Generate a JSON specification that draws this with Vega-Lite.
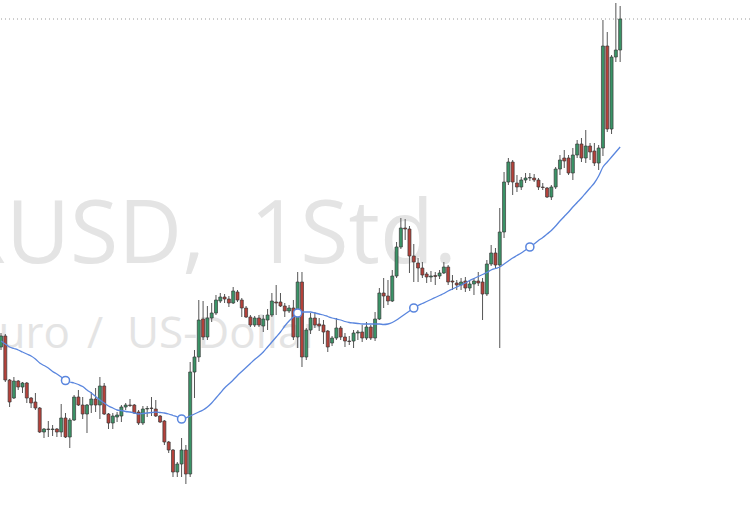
{
  "$schema": "https://vega.github.io/schema/vega-lite/v6.json",
  "width": 750,
  "height": 515,
  "padding": 0,
  "autosize": {"type": "none"},
  "background": "#ffffff",
  "config": {"view": {"stroke": null}, "scale": {"continuousPadding": 0}},
  "datasets": {
    "labels": [
      {"t": "EURUSD,", "x": 47.44, "y": 1.0737},
      {"t": "1Std.", "x": 57.9, "y": 1.0737},
      {"t": "Euro", "x": 16.05, "y": 1.0652},
      {"t": "/", "x": 20.0, "y": 1.0652},
      {"t": "US-Dollar", "x": 29.3, "y": 1.0652}
    ],
    "last": [{"price": 1.0981}],
    "candles": [
      {"i":0,"o":1.0653,"h":1.0667,"l":1.0650,"c":1.0664,"ma":1.0659},
      {"i":1,"o":1.0664,"h":1.0666,"l":1.0618,"c":1.0620,"ma":1.0656},
      {"i":2,"o":1.0620,"h":1.0621,"l":1.0593,"c":1.0598,"ma":1.0653},
      {"i":3,"o":1.0602,"h":1.0623,"l":1.0601,"c":1.0619,"ma":1.06515},
      {"i":4,"o":1.0619,"h":1.0620,"l":1.0610,"c":1.0613,"ma":1.0650},
      {"i":5,"o":1.0613,"h":1.0618,"l":1.0607,"c":1.0617,"ma":1.0648},
      {"i":6,"o":1.0617,"h":1.0618,"l":1.0597,"c":1.0602,"ma":1.0646},
      {"i":7,"o":1.0602,"h":1.0603,"l":1.0592,"c":1.0597,"ma":1.0644},
      {"i":8,"o":1.0598,"h":1.0607,"l":1.0590,"c":1.0592,"ma":1.0641},
      {"i":9,"o":1.0592,"h":1.0593,"l":1.0567,"c":1.0568,"ma":1.0637},
      {"i":10,"o":1.0568,"h":1.0572,"l":1.0562,"c":1.0571,"ma":1.06345},
      {"i":11,"o":1.0571,"h":1.0579,"l":1.0563,"c":1.05705,"ma":1.0632},
      {"i":12,"o":1.05705,"h":1.0575,"l":1.0564,"c":1.0571,"ma":1.06285},
      {"i":13,"o":1.0571,"h":1.0572,"l":1.0563,"c":1.0568,"ma":1.0626},
      {"i":14,"o":1.0568,"h":1.0596,"l":1.0563,"c":1.0582,"ma":1.0623},
      {"i":15,"o":1.0582,"h":1.0587,"l":1.0562,"c":1.0563,"ma":1.06195},
      {"i":16,"o":1.0563,"h":1.0582,"l":1.0552,"c":1.0580,"ma":1.0618},
      {"i":17,"o":1.0580,"h":1.0605,"l":1.0579,"c":1.0603,"ma":1.0617},
      {"i":18,"o":1.0603,"h":1.0610,"l":1.0594,"c":1.0595,"ma":1.06155},
      {"i":19,"o":1.0595,"h":1.0603,"l":1.0581,"c":1.0586,"ma":1.06135},
      {"i":20,"o":1.0586,"h":1.0596,"l":1.0567,"c":1.0595,"ma":1.0610},
      {"i":21,"o":1.0595,"h":1.0608,"l":1.0587,"c":1.0601,"ma":1.0607},
      {"i":22,"o":1.0601,"h":1.0612,"l":1.0588,"c":1.0595,"ma":1.06035},
      {"i":23,"o":1.0595,"h":1.0623,"l":1.0581,"c":1.0614,"ma":1.0600},
      {"i":24,"o":1.0614,"h":1.0617,"l":1.0585,"c":1.0586,"ma":1.0597},
      {"i":25,"o":1.0586,"h":1.0587,"l":1.0571,"c":1.0577,"ma":1.0594},
      {"i":26,"o":1.0577,"h":1.0587,"l":1.0571,"c":1.0584,"ma":1.0592},
      {"i":27,"o":1.0583,"h":1.0588,"l":1.0578,"c":1.0585,"ma":1.0590},
      {"i":28,"o":1.0584,"h":1.0595,"l":1.0578,"c":1.0593,"ma":1.05895},
      {"i":29,"o":1.0593,"h":1.0597,"l":1.0590,"c":1.0595,"ma":1.05885},
      {"i":30,"o":1.0595,"h":1.0601,"l":1.0593,"c":1.05945,"ma":1.0588},
      {"i":31,"o":1.0595,"h":1.0596,"l":1.0586,"c":1.0587,"ma":1.0587},
      {"i":32,"o":1.0588,"h":1.0590,"l":1.0575,"c":1.0577,"ma":1.0586},
      {"i":33,"o":1.0577,"h":1.0594,"l":1.0575,"c":1.0591,"ma":1.05865},
      {"i":34,"o":1.0591,"h":1.0594,"l":1.0583,"c":1.05915,"ma":1.0587},
      {"i":35,"o":1.0592,"h":1.0603,"l":1.0584,"c":1.05915,"ma":1.05875},
      {"i":36,"o":1.0591,"h":1.0600,"l":1.0583,"c":1.0584,"ma":1.0588},
      {"i":37,"o":1.0584,"h":1.0585,"l":1.0577,"c":1.0578,"ma":1.05875},
      {"i":38,"o":1.0579,"h":1.0580,"l":1.0555,"c":1.0558,"ma":1.0587},
      {"i":39,"o":1.0558,"h":1.0559,"l":1.0547,"c":1.0550,"ma":1.0586},
      {"i":40,"o":1.0550,"h":1.0551,"l":1.0523,"c":1.0528,"ma":1.05845},
      {"i":41,"o":1.0528,"h":1.0538,"l":1.0523,"c":1.0536,"ma":1.0583},
      {"i":42,"o":1.0536,"h":1.0562,"l":1.0523,"c":1.0550,"ma":1.0581},
      {"i":43,"o":1.0550,"h":1.0555,"l":1.0516,"c":1.0526,"ma":1.0582},
      {"i":44,"o":1.0526,"h":1.0638,"l":1.0523,"c":1.0628,"ma":1.0584},
      {"i":45,"o":1.0628,"h":1.0650,"l":1.0602,"c":1.0643,"ma":1.0586},
      {"i":46,"o":1.0643,"h":1.0700,"l":1.0638,"c":1.0680,"ma":1.0588},
      {"i":47,"o":1.0681,"h":1.0699,"l":1.0660,"c":1.0663,"ma":1.0590},
      {"i":48,"o":1.0663,"h":1.0694,"l":1.0660,"c":1.0682,"ma":1.0593},
      {"i":49,"o":1.0682,"h":1.0697,"l":1.0678,"c":1.0687,"ma":1.0597},
      {"i":50,"o":1.0687,"h":1.0705,"l":1.0685,"c":1.0700,"ma":1.0602},
      {"i":51,"o":1.0699,"h":1.0707,"l":1.0697,"c":1.0703,"ma":1.0607},
      {"i":52,"o":1.0703,"h":1.0706,"l":1.0697,"c":1.0701,"ma":1.0612},
      {"i":53,"o":1.0701,"h":1.0704,"l":1.0693,"c":1.0697,"ma":1.0616},
      {"i":54,"o":1.0697,"h":1.0713,"l":1.0696,"c":1.0709,"ma":1.0620},
      {"i":55,"o":1.0708,"h":1.0710,"l":1.0698,"c":1.0700,"ma":1.06245},
      {"i":56,"o":1.0700,"h":1.0702,"l":1.0683,"c":1.0692,"ma":1.06285},
      {"i":57,"o":1.0692,"h":1.0694,"l":1.0682,"c":1.0683,"ma":1.06325},
      {"i":58,"o":1.0683,"h":1.0685,"l":1.0673,"c":1.0675,"ma":1.06365},
      {"i":59,"o":1.0675,"h":1.0684,"l":1.0673,"c":1.0682,"ma":1.06405},
      {"i":60,"o":1.0682,"h":1.0685,"l":1.0673,"c":1.0675,"ma":1.0644},
      {"i":61,"o":1.0674,"h":1.0685,"l":1.0668,"c":1.0681,"ma":1.0648},
      {"i":62,"o":1.0680,"h":1.0691,"l":1.0670,"c":1.0685,"ma":1.0653},
      {"i":63,"o":1.0685,"h":1.0707,"l":1.0683,"c":1.0699,"ma":1.0658},
      {"i":64,"o":1.0698,"h":1.0715,"l":1.0685,"c":1.0697,"ma":1.0663},
      {"i":65,"o":1.0698,"h":1.0707,"l":1.0693,"c":1.0694,"ma":1.0668},
      {"i":66,"o":1.0694,"h":1.0697,"l":1.0683,"c":1.0689,"ma":1.0674},
      {"i":67,"o":1.0689,"h":1.0695,"l":1.0687,"c":1.0692,"ma":1.0679},
      {"i":68,"o":1.0692,"h":1.0700,"l":1.0660,"c":1.0663,"ma":1.0683},
      {"i":69,"o":1.0663,"h":1.0728,"l":1.0652,"c":1.0718,"ma":1.0687},
      {"i":70,"o":1.0718,"h":1.0728,"l":1.0633,"c":1.0643,"ma":1.0688},
      {"i":71,"o":1.0643,"h":1.0672,"l":1.0640,"c":1.0670,"ma":1.0688},
      {"i":72,"o":1.0670,"h":1.0687,"l":1.0666,"c":1.0682,"ma":1.0688},
      {"i":73,"o":1.0682,"h":1.0688,"l":1.0672,"c":1.0675,"ma":1.0687},
      {"i":74,"o":1.0676,"h":1.0682,"l":1.0669,"c":1.0674,"ma":1.0686},
      {"i":75,"o":1.0675,"h":1.0680,"l":1.0656,"c":1.0668,"ma":1.0685},
      {"i":76,"o":1.0669,"h":1.0670,"l":1.0648,"c":1.0653,"ma":1.06835},
      {"i":77,"o":1.0657,"h":1.0664,"l":1.0654,"c":1.0662,"ma":1.0682},
      {"i":78,"o":1.0662,"h":1.0682,"l":1.0660,"c":1.0672,"ma":1.0681},
      {"i":79,"o":1.0672,"h":1.0674,"l":1.0660,"c":1.0663,"ma":1.0680},
      {"i":80,"o":1.0663,"h":1.0667,"l":1.0653,"c":1.0659,"ma":1.06785},
      {"i":81,"o":1.0659,"h":1.0664,"l":1.0655,"c":1.06585,"ma":1.06775},
      {"i":82,"o":1.0659,"h":1.0670,"l":1.0652,"c":1.0667,"ma":1.0677},
      {"i":83,"o":1.0667,"h":1.0670,"l":1.0660,"c":1.0668,"ma":1.06765},
      {"i":84,"o":1.0668,"h":1.0675,"l":1.0658,"c":1.0662,"ma":1.0676},
      {"i":85,"o":1.0662,"h":1.0678,"l":1.0660,"c":1.0673,"ma":1.0676},
      {"i":86,"o":1.0673,"h":1.0675,"l":1.0660,"c":1.0662,"ma":1.0676},
      {"i":87,"o":1.0662,"h":1.0688,"l":1.0659,"c":1.0681,"ma":1.0676},
      {"i":88,"o":1.0681,"h":1.0712,"l":1.0680,"c":1.0707,"ma":1.0676},
      {"i":89,"o":1.0707,"h":1.0722,"l":1.0692,"c":1.0704,"ma":1.06755},
      {"i":90,"o":1.0704,"h":1.0720,"l":1.0695,"c":1.0699,"ma":1.0676},
      {"i":91,"o":1.0699,"h":1.0730,"l":1.0698,"c":1.0724,"ma":1.06775},
      {"i":92,"o":1.0724,"h":1.0758,"l":1.0722,"c":1.0753,"ma":1.0680},
      {"i":93,"o":1.0753,"h":1.0782,"l":1.0751,"c":1.0772,"ma":1.0683},
      {"i":94,"o":1.0772,"h":1.0781,"l":1.0760,"c":1.0771,"ma":1.0686},
      {"i":95,"o":1.0771,"h":1.0774,"l":1.0727,"c":1.0744,"ma":1.0689},
      {"i":96,"o":1.0744,"h":1.0756,"l":1.0718,"c":1.0738,"ma":1.0692},
      {"i":97,"o":1.0737,"h":1.0742,"l":1.0718,"c":1.0732,"ma":1.06945},
      {"i":98,"o":1.0732,"h":1.0738,"l":1.0722,"c":1.0725,"ma":1.06965},
      {"i":99,"o":1.0726,"h":1.0728,"l":1.0717,"c":1.0723,"ma":1.06985},
      {"i":100,"o":1.0723,"h":1.0729,"l":1.0718,"c":1.0724,"ma":1.07005},
      {"i":101,"o":1.07245,"h":1.0728,"l":1.0715,"c":1.07235,"ma":1.07025},
      {"i":102,"o":1.0724,"h":1.0730,"l":1.0721,"c":1.0727,"ma":1.07045},
      {"i":103,"o":1.0727,"h":1.0738,"l":1.0726,"c":1.0733,"ma":1.07065},
      {"i":104,"o":1.0733,"h":1.0735,"l":1.0715,"c":1.0718,"ma":1.0709},
      {"i":105,"o":1.0719,"h":1.0725,"l":1.0710,"c":1.0718,"ma":1.0711},
      {"i":106,"o":1.0717,"h":1.0720,"l":1.0710,"c":1.0715,"ma":1.0713},
      {"i":107,"o":1.0715,"h":1.0722,"l":1.0710,"c":1.0718,"ma":1.0715},
      {"i":108,"o":1.0719,"h":1.0723,"l":1.0708,"c":1.0712,"ma":1.0717},
      {"i":109,"o":1.0712,"h":1.0720,"l":1.0709,"c":1.0716,"ma":1.07195},
      {"i":110,"o":1.0716,"h":1.0722,"l":1.0705,"c":1.0719,"ma":1.07215},
      {"i":111,"o":1.0719,"h":1.0728,"l":1.0714,"c":1.0717,"ma":1.07235},
      {"i":112,"o":1.0718,"h":1.0722,"l":1.0680,"c":1.0706,"ma":1.07255},
      {"i":113,"o":1.0706,"h":1.0740,"l":1.0704,"c":1.0736,"ma":1.07275},
      {"i":114,"o":1.0736,"h":1.0755,"l":1.0734,"c":1.0747,"ma":1.0730},
      {"i":115,"o":1.0747,"h":1.0752,"l":1.0732,"c":1.0735,"ma":1.07315},
      {"i":116,"o":1.0735,"h":1.0792,"l":1.0652,"c":1.0768,"ma":1.0733},
      {"i":117,"o":1.0768,"h":1.0828,"l":1.0762,"c":1.0818,"ma":1.0736},
      {"i":118,"o":1.0818,"h":1.0842,"l":1.0815,"c":1.0838,"ma":1.0739},
      {"i":119,"o":1.0838,"h":1.0840,"l":1.0805,"c":1.0818,"ma":1.0742},
      {"i":120,"o":1.0817,"h":1.0825,"l":1.0808,"c":1.0813,"ma":1.07445},
      {"i":121,"o":1.0813,"h":1.0823,"l":1.0810,"c":1.0820,"ma":1.0747},
      {"i":122,"o":1.0820,"h":1.0827,"l":1.0817,"c":1.0822,"ma":1.0750},
      {"i":123,"o":1.0822,"h":1.0827,"l":1.0819,"c":1.08225,"ma":1.0753},
      {"i":124,"o":1.0822,"h":1.0826,"l":1.0818,"c":1.0820,"ma":1.0756},
      {"i":125,"o":1.0820,"h":1.0822,"l":1.0810,"c":1.0813,"ma":1.07595},
      {"i":126,"o":1.0813,"h":1.0817,"l":1.0810,"c":1.08125,"ma":1.07625},
      {"i":127,"o":1.0812,"h":1.0813,"l":1.0802,"c":1.0803,"ma":1.0766},
      {"i":128,"o":1.0803,"h":1.0815,"l":1.0800,"c":1.0813,"ma":1.07695},
      {"i":129,"o":1.0813,"h":1.0833,"l":1.0811,"c":1.0831,"ma":1.0774},
      {"i":130,"o":1.0831,"h":1.0845,"l":1.0825,"c":1.0840,"ma":1.0779},
      {"i":131,"o":1.0842,"h":1.0850,"l":1.0832,"c":1.0839,"ma":1.07835},
      {"i":132,"o":1.0842,"h":1.0845,"l":1.0825,"c":1.0827,"ma":1.0788},
      {"i":133,"o":1.0827,"h":1.0852,"l":1.0820,"c":1.0845,"ma":1.0793},
      {"i":134,"o":1.0845,"h":1.0860,"l":1.0842,"c":1.0856,"ma":1.07975},
      {"i":135,"o":1.0856,"h":1.0862,"l":1.0838,"c":1.0842,"ma":1.0802},
      {"i":136,"o":1.0842,"h":1.0870,"l":1.0837,"c":1.0854,"ma":1.0807},
      {"i":137,"o":1.0854,"h":1.0857,"l":1.0840,"c":1.0848,"ma":1.0812},
      {"i":138,"o":1.0849,"h":1.0857,"l":1.0834,"c":1.0837,"ma":1.0817},
      {"i":139,"o":1.0837,"h":1.0855,"l":1.0830,"c":1.0852,"ma":1.0824},
      {"i":140,"o":1.0852,"h":1.0980,"l":1.0844,"c":1.0954,"ma":1.0833},
      {"i":141,"o":1.0954,"h":1.0968,"l":1.0868,"c":1.0871,"ma":1.0838},
      {"i":142,"o":1.0871,"h":1.0945,"l":1.0866,"c":1.0943,"ma":1.0843},
      {"i":143,"o":1.0943,"h":1.0997,"l":1.0938,"c":1.0950,"ma":1.0848},
      {"i":144,"o":1.0950,"h":1.0994,"l":1.0938,"c":1.0981,"ma":1.0853}
    ]
  },
  "layer": [
    {
      "data": {"name": "labels"},
      "transform": [{"filter": {"field": "t", "oneOf": ["EURUSD,"]}}],
      "mark": {"type": "text", "align": "right", "baseline": "alphabetic", "font": "Open Sans", "fontSize": 88, "color": "#e4e4e4", "clip": true},
      "encoding": {
        "x": {"field": "x", "type": "quantitative", "scale": {"domain": [-0.233, 174.2], "nice": false, "zero": false, "padding": 0}, "axis": null},
        "y": {"field": "y", "type": "quantitative", "scale": {"domain": [1.0485, 1.1], "nice": false, "zero": false, "padding": 0}, "axis": null},
        "text": {"field": "t"}
      }
    },
    {
      "data": {"name": "labels"},
      "transform": [{"filter": {"field": "t", "oneOf": ["1Std."]}}],
      "mark": {"type": "text", "align": "left", "baseline": "alphabetic", "font": "Open Sans", "fontSize": 88, "color": "#e4e4e4", "clip": true},
      "encoding": {
        "x": {"field": "x", "type": "quantitative"},
        "y": {"field": "y", "type": "quantitative"},
        "text": {"field": "t"}
      }
    },
    {
      "data": {"name": "labels"},
      "transform": [{"filter": {"field": "t", "oneOf": ["Euro"]}}],
      "mark": {"type": "text", "align": "right", "baseline": "alphabetic", "font": "Open Sans", "fontSize": 44, "color": "#e4e4e4", "clip": true},
      "encoding": {
        "x": {"field": "x", "type": "quantitative"},
        "y": {"field": "y", "type": "quantitative"},
        "text": {"field": "t"}
      }
    },
    {
      "data": {"name": "labels"},
      "transform": [{"filter": {"field": "t", "oneOf": ["/", "US-Dollar"]}}],
      "mark": {"type": "text", "align": "left", "baseline": "alphabetic", "font": "Open Sans", "fontSize": 44, "color": "#e4e4e4", "clip": true},
      "encoding": {
        "x": {"field": "x", "type": "quantitative"},
        "y": {"field": "y", "type": "quantitative"},
        "text": {"field": "t"}
      }
    },
    {
      "data": {"name": "last"},
      "mark": {"type": "rule", "color": "#9a9a9a", "strokeWidth": 1, "strokeDash": [1, 3], "clip": true},
      "encoding": {
        "y": {"field": "price", "type": "quantitative"}
      }
    },
    {
      "data": {"name": "candles"},
      "mark": {"type": "rule", "color": "#555555", "strokeWidth": 1, "clip": true},
      "encoding": {
        "x": {"field": "i", "type": "quantitative"},
        "y": {"field": "l", "type": "quantitative"},
        "y2": {"field": "h"}
      }
    },
    {
      "data": {"name": "candles"},
      "mark": {"type": "bar", "width": 3, "stroke": "#3a3a3a", "strokeWidth": 0.7, "clip": true},
      "encoding": {
        "x": {"field": "i", "type": "quantitative", "scale": {"padding": 0}},
        "y": {"field": "o", "type": "quantitative"},
        "y2": {"field": "c"},
        "fill": {"condition": {"test": "datum.c >= datum.o", "value": "#3a9467"}, "value": "#b5413a"}
      }
    },
    {
      "data": {"name": "candles"},
      "mark": {"type": "line", "color": "#5a86de", "strokeWidth": 1.3, "interpolate": "monotone", "clip": true},
      "encoding": {
        "x": {"field": "i", "type": "quantitative"},
        "y": {"field": "ma", "type": "quantitative"}
      }
    },
    {
      "data": {"name": "candles"},
      "transform": [{"filter": {"field": "i", "oneOf": [15, 42, 69, 96, 123]}}],
      "mark": {"type": "point", "shape": "circle", "filled": true, "fill": "#ffffff", "stroke": "#5a86de", "strokeWidth": 1.5, "size": 65, "opacity": 1, "clip": true},
      "encoding": {
        "x": {"field": "i", "type": "quantitative"},
        "y": {"field": "ma", "type": "quantitative"}
      }
    }
  ]
}
